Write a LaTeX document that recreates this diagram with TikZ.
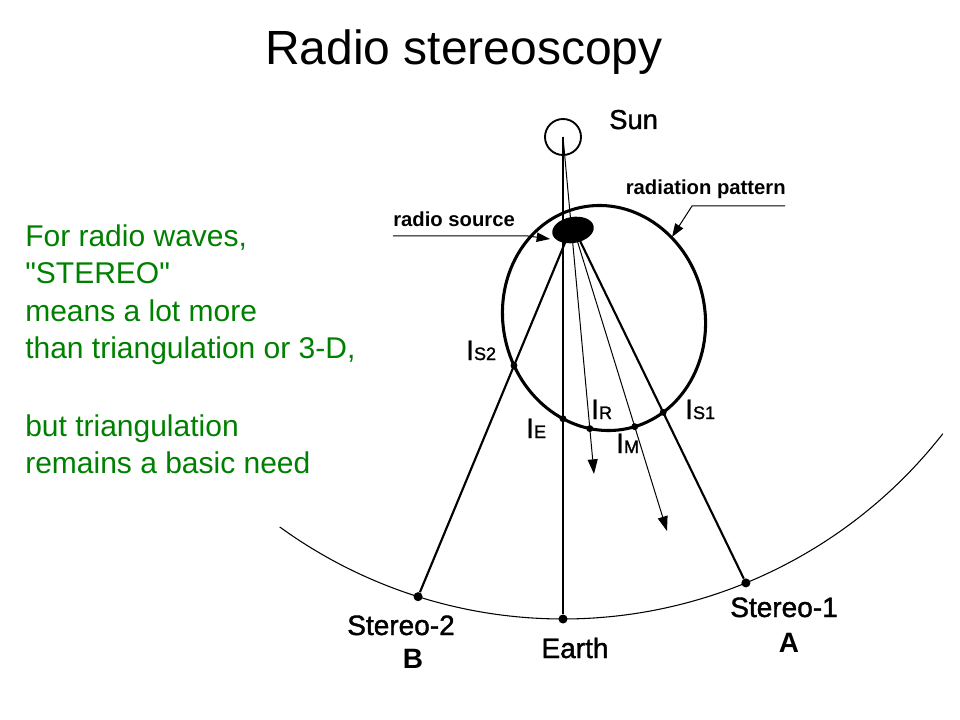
\documentclass[tikz,border=0pt]{standalone}
\usepackage{fontspec}
\setmainfont{Liberation Sans}
\newfontfamily\plainsans{Liberation Sans}[Ligatures=TeXOff]
\newfontfamily\labsans{Liberation Sans}[FakeBold=1.4]
\usetikzlibrary{arrows.meta,shapes.geometric,intersections}
\definecolor{txtgreen}{RGB}{0,128,0}
\begin{document}
\begin{tikzpicture}[x=0.75pt,y=-0.75pt,
  gtxt/.style={anchor=base west, inner sep=0pt, text=txtgreen, font=\plainsans\fontsize{22.5}{27}\selectfont},
  lab/.style={inner sep=0pt, font=\labsans\fontsize{21}{21}\selectfont},
  blab/.style={inner sep=0pt, font=\fontsize{21}{21}\selectfont\bfseries},
  clab/.style={inner sep=0pt, font=\fontsize{15.2}{15.2}\selectfont\bfseries},
  ilab/.style={anchor=base west, inner sep=0pt, font=\labsans\fontsize{21}{21}\selectfont},
  odot/.style={circle, fill=black, inner sep=0pt, minimum size=6.8pt},
  edot/.style={circle, fill=black, inner sep=0pt, minimum size=5.2pt},
  ray/.style={line width=0.75pt, -{Triangle[length=11pt,width=7.5pt]}},
  callout/.style={line width=0.75pt, -{Triangle[length=10pt,width=7pt]}},
  sline/.style={line width=1.6pt}
]
\fill[white] (0,0) rectangle (960,720);
\useasboundingbox (0,0) rectangle (960,720);

% title
\node[anchor=base, inner sep=0pt, font=\fontsize{36}{36}\selectfont] (title) at (464,65) {Radio stereoscopy};

% green text
\node[gtxt] (g1) at (25,247) {For radio waves,};
\node[gtxt] (g2) at (25,284) {"STEREO"};
\node[gtxt] (g3) at (25,321) {means a lot more};
\node[gtxt] (g4) at (25,358) {than triangulation or 3-D,};
\node[gtxt] (g5) at (25,436) {but triangulation};
\node[gtxt] (g6) at (25,473) {remains a basic need};

% orbit
\draw[line width=0.8pt] plot[domain=38:126, samples=120] ({563+482*cos(\x)},{137+482*sin(\x)});

% radiation pattern
\draw[line width=2.3pt, name path=rp, rotate around={12:(604,318)}]
  (604,318) ellipse [x radius=75.75pt, y radius=84.75pt];

% sun
\node[circle, draw, line width=1.4pt, minimum size=27pt, inner sep=0pt] (sun) at (563,137) {};
\node[anchor=base west, inner sep=0pt, font=\labsans\fontsize{20.5}{20.5}\selectfont] (sunlab) at (609,129) {Sun};

% spacecraft / earth dots
\node[odot] (S2) at ({563+482*cos(107.5)},{137+482*sin(107.5)}) {};
\node[odot] (earth) at (563,619) {};
\node[odot] (S1) at ({563+482*cos(67.7)},{137+482*sin(67.7)}) {};

% ray points
\coordinate (src2) at (567,238);
\coordinate (src1) at (579.6,240);
\coordinate (srcM) at (577,240);
\coordinate (rayR) at (594,474);
\coordinate (rayM) at (667,531);

% lines
\draw[sline, name path=lE] (sun.center) -- (earth);
\draw[sline, name path=l2] (src2) -- (S2);
\draw[sline, name path=l1] (src1) -- (S1);
\draw[ray, name path=lR] (sun.center) -- (rayR);
\draw[ray, name path=lM] (srcM) -- (rayM);

% intersections
\path[name intersections={of=rp and l2, by=pS2}];
\path[name intersections={of=rp and l1, by=pS1}];
\path[name intersections={of=rp and lM, by=pM}];
\path[name intersections={of=rp and lE, sort by=lE, name=xe}];
\path[name intersections={of=rp and lR, sort by=lR, name=xr}];

% radio source blob
\node[ellipse, fill=black, inner sep=0pt, minimum width=31.5pt, minimum height=19.5pt, rotate=10] (src) at (573,230) {};

% intersection dots
\node[edot] (iS2) at (pS2) {};
\node[edot] (iE) at (xe-2) {};
\node[edot] (iR) at (xr-2) {};
\node[edot] (iM) at (pM) {};
\node[edot] (iS1) at (pS1) {};

% I labels
\node[ilab] (lS2) at (466,360) {I{\fontsize{13.5}{13.5}\selectfont S2}};
\node[ilab] (lE) at (526,438) {I{\fontsize{13.5}{13.5}\selectfont E}};
\node[ilab] (lR) at (591,419) {I{\fontsize{13.5}{13.5}\selectfont R}};
\node[ilab] (lM) at (616,453) {I{\fontsize{13.5}{13.5}\selectfont M}};
\node[ilab] (lS1) at (685,419) {I{\fontsize{13.5}{13.5}\selectfont S1}};

% callouts
\node[clab, anchor=base west] (rslab) at (393,227) {radio source};
\coordinate (rsA) at (393,236);
\coordinate (rsB) at (528,236);
\coordinate (rsTip) at (550,239);
\draw[callout] (rsA) -- (rsB) -- (rsTip);

\node[clab, anchor=base east] (rplab) at (786,195) {radiation pattern};
\coordinate (rpA) at (785,206);
\coordinate (rpB) at (692,206);
\coordinate (rpTip) at (672,237);
\draw[callout] (rpA) -- (rpB) -- (rpTip);

% bottom labels
\node[lab, anchor=base] (lS2b) at (401,635) {Stereo-2};
\node[blab, anchor=base] (lB) at (413,668) {B};
\node[lab, anchor=base] (lEarth) at (575,658) {Earth};
\node[lab, anchor=base] (lS1b) at (784,617) {Stereo-1};
\node[blab, anchor=base] (lA) at (789,652) {A};
\end{tikzpicture}
\end{document}
